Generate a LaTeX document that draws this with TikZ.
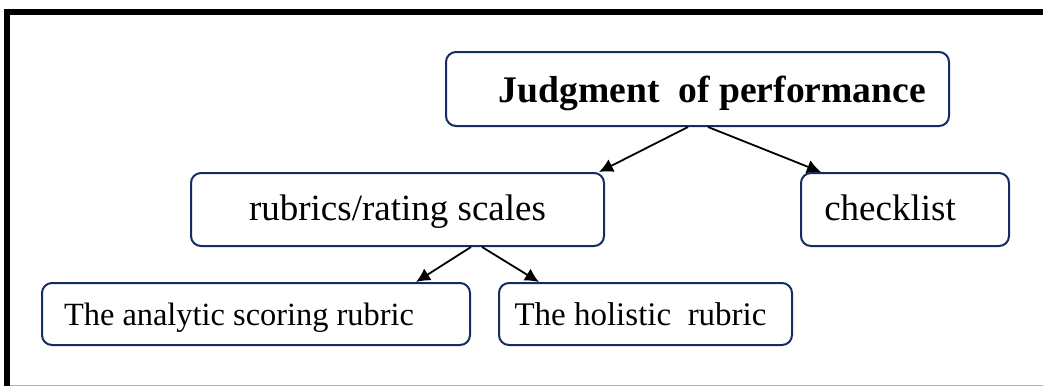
\documentclass[tikz,border=0pt]{standalone}
\usepackage{fontspec}
\setmainfont{Liberation Serif}
\usetikzlibrary{shapes,calc,positioning,arrows.meta}
\definecolor{boxblue}{RGB}{20,44,98}

\tikzset{
  box/.style={draw=boxblue, line width=1pt, rounded corners=5pt, inner sep=0pt},
  big/.style={font=\fontsize{18.5}{22}\selectfont, text height=13pt, text depth=2.5pt},
  small/.style={font=\fontsize{16.5}{20}\selectfont, text height=12pt, text depth=1pt},
  link/.style={line width=0.9pt, -{Latex[length=7pt,width=7pt]}}
}

\begin{document}
\begin{tikzpicture}[x=0.5pt,y=-0.5pt]
\useasboundingbox (0,0) rectangle (1043,387);

% Frame
\draw[line width=3pt] (7,386) -- (7,12) -- (1043,12);
\draw[gray!60, line width=0.5pt] (10,385.5) -- (1043,385.5);

% Boxes
\node[box, minimum width=251.5pt, minimum height=37pt, text height=14pt, text depth=1pt,
  font=\bfseries\fontsize{18.8}{22}\selectfont] (judge) at (697.5,89)
  {\hspace*{15pt}Judgment~~of performance};
\node[box, big, minimum width=206.5pt, minimum height=36.5pt] (rubric) at (397.5,209.5)
  {rubrics/rating scales};
\node[box, big, minimum width=104pt, minimum height=36.5pt] (check) at (905,209.5)
  {checklist\hspace*{15pt}};
\node[box, small, font=\fontsize{16.2}{20}\selectfont, minimum width=214pt, minimum height=31pt]
  (analytic) at (256,314) {The analytic scoring rubric\hspace*{17pt}};
\node[box, small, minimum width=146.5pt, minimum height=31pt] (holistic) at (645.5,314)
  {The holistic~~rubric\hspace*{5pt}};

% Arrows
\draw[link] ([xshift=-4.75pt]judge.south) -- ([xshift=-3pt]rubric.north east);
\draw[link] ([xshift=5.25pt]judge.south) -- ([xshift=10.5pt]check.north west);
\draw[link] ([xshift=36.75pt]rubric.south) -- ([xshift=-27.5pt]analytic.north east);
\draw[link] ([xshift=42.25pt]rubric.south) -- ([xshift=20.5pt]holistic.north west);
\end{tikzpicture}
\end{document}
